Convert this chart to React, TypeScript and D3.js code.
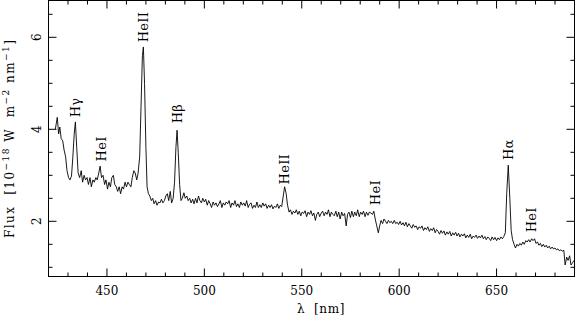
import * as React from 'react';
import * as d3 from 'd3';

// spectrum: [wavelength nm, flux 1e-18 W m^-2 nm^-1]
const spectrum: [number, number][] = [
  [423.5, 4.0], [424.5, 4.26], [425.2, 3.9], [425.8, 4.05], [426.5, 3.8], [427.3, 3.75], [428, 3.55],
  [428.8, 3.4], [429.5, 3.1], [430.3, 2.95], [431, 2.9], [431.8, 2.98], [432.5, 3.4], [433.2, 3.9],
  [433.8, 4.16], [434.5, 3.6], [435.2, 3.05], [436, 2.95], [436.8, 3.1], [437.5, 2.85], [438.3, 3.0],
  [439, 2.9], [439.8, 2.95], [440.5, 2.8], [441.3, 2.95], [442, 2.75], [442.8, 2.9], [443.5, 2.85],
  [444.3, 2.95], [445, 2.9], [445.8, 3.05], [446.5, 3.2], [447.2, 2.95], [448, 3.0], [448.8, 2.8],
  [449.5, 2.9], [450.3, 2.7], [451, 2.85], [451.8, 2.75], [452.5, 2.95], [453.3, 3.0], [454, 2.8],
  [454.8, 2.75], [455.5, 2.65], [456.3, 2.75], [457, 2.6], [457.8, 2.75], [458.5, 2.7], [459.3, 2.85],
  [460, 2.75], [460.8, 2.85], [461.5, 2.8], [462.3, 2.75], [463, 2.95], [463.8, 3.1], [464.5, 3.05],
  [465.3, 2.9], [466, 3.05], [466.8, 3.4], [467.5, 4.5], [468.2, 5.6], [468.7, 5.79], [469.3, 5.0],
  [470, 3.6], [470.6, 2.75], [471.3, 2.6], [472, 2.55], [472.8, 2.45], [473.5, 2.5], [474.2, 2.38],
  [475, 2.45], [475.7, 2.35], [476.5, 2.42], [477.2, 2.4], [478, 2.48], [478.7, 2.4], [479.5, 2.45],
  [480.2, 2.55], [481, 2.6], [481.7, 2.45], [482.5, 2.65], [483.2, 2.4], [484, 2.5], [484.7, 2.85],
  [485.4, 3.6], [486, 3.98], [486.6, 3.5], [487.3, 2.8], [488, 2.45], [488.7, 2.5], [489.5, 2.62],
  [490.2, 2.5], [491, 2.55], [491.7, 2.45], [492.5, 2.5], [493.2, 2.4], [494, 2.48], [494.7, 2.38],
  [495.5, 2.5], [496.2, 2.4], [497, 2.55], [497.7, 2.45], [498.5, 2.4], [499.2, 2.5], [500, 2.42],
  [500.7, 2.48], [501.5, 2.35], [502.2, 2.45], [503, 2.38], [503.7, 2.3], [504.5, 2.42], [505.2, 2.35],
  [506, 2.4], [506.7, 2.32], [507.5, 2.38], [508.2, 2.45], [509, 2.3], [509.7, 2.4], [510.5, 2.35],
  [511.2, 2.42], [512, 2.38], [512.7, 2.45], [513.5, 2.3], [514.2, 2.4], [515, 2.35], [515.7, 2.45],
  [516.5, 2.32], [517.2, 2.38], [518, 2.3], [518.7, 2.42], [519.5, 2.35], [520.2, 2.4], [521, 2.33],
  [521.7, 2.45], [522.5, 2.3], [523.2, 2.37], [524, 2.4], [524.7, 2.28], [525.5, 2.35], [526.2, 2.3],
  [527, 2.42], [527.7, 2.3], [528.5, 2.36], [529.2, 2.3], [530, 2.4], [530.7, 2.33], [531.5, 2.38],
  [532.2, 2.28], [533, 2.35], [533.7, 2.3], [534.5, 2.36], [535.2, 2.27], [536, 2.33], [536.7, 2.3],
  [537.5, 2.38], [538.2, 2.28], [539, 2.35], [539.7, 2.32], [540.5, 2.55], [541.2, 2.75], [542, 2.6],
  [542.7, 2.35], [543.5, 2.2], [544.2, 2.25], [545, 2.15], [545.7, 2.22], [546.5, 2.18], [547.2, 2.25],
  [548, 2.15], [548.7, 2.22], [549.5, 2.12], [550.2, 2.2], [551, 2.17], [551.7, 2.23], [552.5, 2.1],
  [553.2, 2.2], [554, 2.15], [554.7, 2.23], [555.5, 2.12], [556.2, 2.18], [557, 2.02], [557.7, 2.15],
  [558.5, 2.2], [559.2, 2.1], [560, 2.18], [560.7, 2.22], [561.5, 2.12], [562.2, 2.2], [563, 2.15],
  [563.7, 2.25], [564.5, 2.1], [565.2, 2.2], [566, 2.15], [566.7, 2.12], [567.5, 2.22], [568.2, 2.1],
  [569, 2.2], [569.7, 2.05], [570.5, 2.2], [571.2, 2.12], [572, 2.17], [572.8, 1.9], [573.5, 2.15],
  [574.2, 2.2], [575, 2.08], [575.7, 2.22], [576.5, 2.1], [577.2, 2.2], [578, 2.12], [578.7, 2.25],
  [579.5, 2.1], [580.2, 2.2], [581, 2.15], [581.7, 2.22], [582.5, 2.1], [583.2, 2.2], [584, 2.13],
  [584.7, 2.2], [585.5, 2.18], [586.3, 2.15], [587, 2.22], [587.7, 2.05], [588.5, 1.9], [589.3, 1.75],
  [590, 1.9], [590.7, 2.02], [591.5, 1.95], [592.2, 2.05], [593, 2.0], [593.7, 1.95], [594.5, 2.02],
  [595.2, 1.97], [596, 2.0], [596.7, 1.95], [597.5, 2.02], [598.2, 1.95], [599, 1.98], [599.7, 1.93],
  [600.5, 2.0], [601.2, 1.92], [602, 1.97], [602.7, 1.9], [603.5, 1.98], [604.2, 1.88], [605, 1.95],
  [605.7, 1.9], [606.5, 1.85], [607.2, 1.93], [608, 1.87], [608.7, 1.9], [609.5, 1.82], [610.2, 1.88],
  [611, 1.85], [611.7, 1.9], [612.5, 1.8], [613.2, 1.86], [614, 1.82], [614.7, 1.88], [615.5, 1.78],
  [616.2, 1.84], [617, 1.8], [617.7, 1.86], [618.5, 1.75], [619.2, 1.82], [620, 1.78], [620.7, 1.72],
  [621.5, 1.8], [622.2, 1.74], [623, 1.79], [623.7, 1.7], [624.5, 1.77], [625.2, 1.72], [626, 1.78],
  [626.7, 1.68], [627.5, 1.75], [628.2, 1.7], [629, 1.76], [629.7, 1.68], [630.5, 1.74], [631.2, 1.66],
  [632, 1.72], [632.7, 1.68], [633.5, 1.73], [634.2, 1.64], [635, 1.7], [635.7, 1.65], [636.5, 1.72],
  [637.2, 1.62], [638, 1.68], [638.7, 1.65], [639.5, 1.7], [640.2, 1.63], [641, 1.68], [641.7, 1.64],
  [642.5, 1.7], [643.2, 1.62], [644, 1.67], [644.7, 1.6], [645.5, 1.66], [646.2, 1.63], [647, 1.58],
  [647.7, 1.66], [648.5, 1.6], [649.2, 1.65], [650, 1.58], [650.7, 1.64], [651.5, 1.6], [652.2, 1.66],
  [653, 1.62], [653.7, 1.67], [654.5, 1.75], [655.2, 2.6], [656, 3.22], [656.8, 2.5], [657.5, 1.8],
  [658.2, 1.6], [659, 1.5], [659.7, 1.42], [660.5, 1.5], [661.2, 1.46], [662, 1.52], [662.7, 1.48],
  [663.5, 1.55], [664.2, 1.5], [665, 1.58], [665.7, 1.55], [666.5, 1.6], [667.2, 1.55], [668, 1.62],
  [668.7, 1.58], [669.5, 1.62], [670.2, 1.52], [671, 1.55], [671.7, 1.48], [672.5, 1.52], [673.2, 1.45],
  [674, 1.5], [674.7, 1.44], [675.5, 1.48], [676.2, 1.42], [677, 1.46], [677.7, 1.4], [678.5, 1.44],
  [679.2, 1.4], [680, 1.42], [680.7, 1.38], [681.5, 1.4], [682.2, 1.36], [683, 1.38], [683.7, 1.35],
  [684.5, 1.37], [685.2, 1.05], [686, 1.22], [686.7, 1.15], [687.5, 1.25], [688.2, 1.05], [689, 1.1],
  [689.8, 1.15],
];

// line identifications: name, rest wavelength, flux level where the label starts
const lineNames = ['H\u03b3', 'HeI', 'HeII', 'H\u03b2', 'HeII', 'HeI', 'H\u03b1', 'HeI'];
const lineWavelengths = [434.0, 447.1, 468.6, 486.1, 541.1, 587.6, 656.3, 667.8];
const lineLabelFlux = [4.26, 3.3, 5.89, 4.13, 2.8, 2.35, 3.33, 1.76];

const xTickLabels = [450, 500, 550, 600, 650];
const yTickLabels = [2, 4, 6];

const width = 575;
const height = 318;
const font = '"DejaVu Serif", serif';

export default function App() {
  const ref = React.useRef<SVGSVGElement>(null);

  React.useEffect(() => {
    const svg = d3.select(ref.current);
    svg.selectAll('*').remove();

    const x = d3.scaleLinear().domain([420, 690]).range([48.5, 574.5]);
    const y = d3.scaleLinear().domain([0.8, 6.8]).range([276.5, 0.5]);
    const [x0, x1] = x.range();
    const [y0, y1] = y.range();

    const g = svg.append('g').attr('stroke', '#000').attr('fill', 'none');

    // ticks on all four sides
    const xMinor = d3.range(430, 690, 10);
    const yMinor = d3.range(1, 6.8, 0.5);
    xMinor.forEach(v => {
      const len = xTickLabels.includes(v) ? 8 : 4;
      g.append('line').attr('x1', x(v)).attr('x2', x(v)).attr('y1', y0).attr('y2', y0 - len);
      g.append('line').attr('x1', x(v)).attr('x2', x(v)).attr('y1', y1).attr('y2', y1 + len);
    });
    yMinor.forEach(v => {
      const len = yTickLabels.includes(v) ? 8 : 4;
      g.append('line').attr('y1', y(v)).attr('y2', y(v)).attr('x1', x0).attr('x2', x0 + len);
      g.append('line').attr('y1', y(v)).attr('y2', y(v)).attr('x1', x1).attr('x2', x1 - len);
    });

    g.append('rect').attr('x', x0).attr('y', y1).attr('width', x1 - x0).attr('height', y0 - y1);

    const line = d3.line<[number, number]>().x(d => x(d[0])).y(d => y(d[1]));
    g.append('path').datum(spectrum).attr('d', line).attr('stroke-width', 0.9).attr('stroke-linejoin', 'round');

    const t = svg.append('g').attr('font-family', font).attr('font-size', 12).attr('fill', '#000');

    t.selectAll('.xt').data(xTickLabels).enter().append('text')
      .attr('x', d => x(d)).attr('y', 295).attr('text-anchor', 'middle').text(d => d);

    t.selectAll('.yt').data(yTickLabels).enter().append('text')
      .attr('transform', d => `translate(41,${y(d)}) rotate(-90)`)
      .attr('text-anchor', 'middle').text(d => d);

    t.selectAll('.ln').data(lineNames).enter().append('text')
      .attr('font-size', 13).attr('letter-spacing', 0.3)
      .attr('transform', (d, i) => `translate(${x(lineWavelengths[i]) + 4.5},${y(lineLabelFlux[i])}) rotate(-90)`)
      .text(d => d);

    t.append('text').attr('x', 321).attr('y', 313).attr('text-anchor', 'middle')
      .attr('xml:space', 'preserve').attr('letter-spacing', 0.6).text('\u03bb  [nm]');

    const yl = t.append('text').attr('transform', 'translate(14,139) rotate(-90)')
      .attr('text-anchor', 'middle').attr('xml:space', 'preserve')
      .attr('textLength', 198).attr('lengthAdjust', 'spacing');
    yl.append('tspan').text('Flux  [10');
    yl.append('tspan').attr('dy', -5).attr('font-size', 9).text('\u221218');
    yl.append('tspan').attr('dy', 5).text(' W  m');
    yl.append('tspan').attr('dy', -5).attr('font-size', 9).text('\u22122');
    yl.append('tspan').attr('dy', 5).text(' nm');
    yl.append('tspan').attr('dy', -5).attr('font-size', 9).text('\u22121');
    yl.append('tspan').attr('dy', 5).text(']');
  }, []);

  return (
    <svg ref={ref} width={width} height={height}
      style={{position: 'absolute', left: 0, top: 0, background: '#fff'}} />
  );
}
